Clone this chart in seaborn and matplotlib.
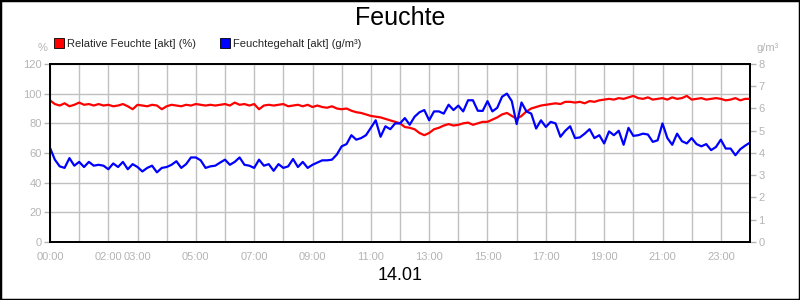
import numpy as np
import pandas as pd
import matplotlib
matplotlib.use("Agg")
import matplotlib.pyplot as plt
from matplotlib.lines import Line2D
from matplotlib.patches import Rectangle
import seaborn as sns

sns.set_style("white")
plt.rcParams['font.family'] = ['Liberation Sans', 'DejaVu Sans']

# time in hours, 10-minute steps
hours = [i / 6 for i in range(145)]

rel_feuchte = [
    95.5, 93, 92, 93.5, 91.5, 92.5,
    94, 92.5, 93, 92, 93, 92,
    92.5, 91.5, 92, 93, 91.5, 89.5,
    92.5, 92, 91.5, 92.5, 92, 89.5,
    91.5, 92.5, 92, 91.5, 92.5, 92,
    93, 92.5, 92, 92.5, 92, 92.5,
    93, 92, 94, 92.5, 93, 92,
    93, 89.5, 92, 92.5, 92, 92.5,
    93, 91.5, 92, 92.5, 91.5, 92.5,
    91, 92, 91, 90.5, 91.5, 90,
    89.5, 90, 88.5, 87.5, 87, 86,
    85, 84.5, 84, 83, 82, 81,
    80, 77.5, 77, 76, 73.5, 72,
    73.5, 76, 77, 78.5, 79.5, 78.5,
    79, 80, 80.5, 79, 80, 81,
    81, 82.5, 84, 86, 87, 85,
    83, 85, 88, 90, 91, 92,
    92.5, 93, 93.5, 93, 94.5, 94.5,
    94, 94.5, 93.5, 95, 94.5, 95.5,
    96, 96.5, 96, 97, 96.5, 97.5,
    98.5, 97, 96.5, 97.5, 96, 96.5,
    97, 96, 97.5, 96.5, 97, 98.5,
    96, 96.5, 97, 96, 96.5, 97,
    96.5, 95.5, 96, 97, 95.5, 96.5,
    96.5,
]

feuchtegehalt = [
    4.23, 3.70, 3.40, 3.33, 3.77, 3.43,
    3.60, 3.37, 3.60, 3.43, 3.47, 3.43,
    3.27, 3.53, 3.37, 3.60, 3.27, 3.50,
    3.37, 3.17, 3.33, 3.43, 3.13, 3.33,
    3.37, 3.47, 3.63, 3.33, 3.50, 3.80,
    3.80, 3.67, 3.33, 3.40, 3.43, 3.57,
    3.70, 3.47, 3.60, 3.80, 3.47, 3.43,
    3.33, 3.70, 3.43, 3.50, 3.20, 3.50,
    3.33, 3.40, 3.73, 3.37, 3.60, 3.33,
    3.47, 3.57, 3.67, 3.67, 3.70, 3.93,
    4.30, 4.40, 4.80, 4.60, 4.67, 4.80,
    5.13, 5.47, 4.73, 5.20, 5.07, 5.33,
    5.33, 5.57, 5.27, 5.63, 5.83, 5.93,
    5.47, 5.87, 5.87, 5.77, 6.17, 5.93,
    6.13, 5.87, 6.37, 6.37, 5.90, 5.89,
    6.33, 5.87, 6.03, 6.53, 6.67, 6.33,
    5.30, 6.27, 5.87, 5.77, 5.10, 5.47,
    5.17, 5.40, 5.33, 4.73, 5.00, 5.20,
    4.67, 4.70, 4.87, 5.07, 4.67, 4.80,
    4.43, 4.97, 4.80, 5.00, 4.37, 5.13,
    4.77, 4.80, 4.87, 4.83, 4.50, 4.57,
    5.33, 4.67, 4.37, 4.87, 4.53, 4.43,
    4.67, 4.40, 4.30, 4.40, 4.13, 4.27,
    4.60, 4.20, 4.20, 3.90, 4.17, 4.33,
    4.47,
]

xtick_labels = {0: "00:00", 2: "02:00", 3: "03:00", 5: "05:00", 7: "07:00",
                9: "09:00", 11: "11:00", 13: "13:00", 15: "15:00", 17: "17:00",
                19: "19:00", 21: "21:00", 23: "23:00"}
left_ticks = [0, 20, 40, 60, 80, 100, 120]
right_ticks = [0, 1, 2, 3, 4, 5, 6, 7, 8]

label_rel = "Relative Feuchte [akt] (%)"
label_geh = "Feuchtegehalt [akt] (g/m³)"
title = "Feuchte"
date_label = "14.01"

df = pd.DataFrame({"t": hours, "rel": rel_feuchte, "geh": feuchtegehalt})

gray = "#b4b4b4"
fig = plt.figure(figsize=(8, 3), dpi=100)
fig.patch.set_facecolor("white")
ax = fig.add_axes([50 / 800, 58 / 300, 700 / 800, 178 / 300])
ax2 = ax.twinx()

sns.lineplot(data=df, x="t", y="rel", ax=ax, color="#ff0000", linewidth=1.6)
sns.lineplot(data=df, x="t", y="geh", ax=ax2, color="#0000ff", linewidth=1.6)

ax.set_xlim(0, 24)
ax.set_ylim(0, 120)
ax2.set_ylim(0, 8)

ax.set_xticks(range(25))
ax.set_xticklabels([xtick_labels.get(h, "") for h in range(25)])
ax.set_yticks(left_ticks)
ax2.set_yticks(right_ticks)

ax.grid(True, color="#c0c0c0", linewidth=1.0)
ax2.grid(False)
ax.set_axisbelow(True)

for a in (ax, ax2):
    a.set_xlabel("")
    a.set_ylabel("")
    a.tick_params(colors=gray, labelsize=8, length=4, width=1, direction="out", pad=2)
    for s in a.spines.values():
        s.set_color("black")
        s.set_linewidth(1.3)
ax.tick_params(axis="x", length=4, pad=3)

fig.text(43 / 800, 1 - 48 / 300, "%", color=gray, fontsize=8, ha="center", va="center")
fig.text(768 / 800, 1 - 48 / 300, "g/m³", color=gray, fontsize=8, ha="center", va="center")

handles = [
    Line2D([], [], marker="s", linestyle="", markersize=7, markerfacecolor="#ff0000",
           markeredgecolor="black", markeredgewidth=0.6, label=label_rel),
    Line2D([], [], marker="s", linestyle="", markersize=7, markerfacecolor="#0000ff",
           markeredgecolor="black", markeredgewidth=0.6, label=label_geh),
]
fig.legend(handles=handles, loc="center left", bbox_to_anchor=(55 / 800, 1 - 44 / 300),
           ncol=2, frameon=False, fontsize=8, handlelength=0.8, handletextpad=0.3,
           columnspacing=2.2, borderaxespad=0, borderpad=0)

fig.text(0.5, 1 - 18 / 300, title, fontsize=18, ha="center", va="center", color="black")
fig.text(0.5, 1 - 275 / 300, date_label, fontsize=13, ha="center", va="center", color="black")

fig.patches.append(Rectangle((0, 0), 1, 1, transform=fig.transFigure, fill=False,
                             edgecolor="black", linewidth=2.5, zorder=10))

fig.savefig("out.png", dpi=100)
